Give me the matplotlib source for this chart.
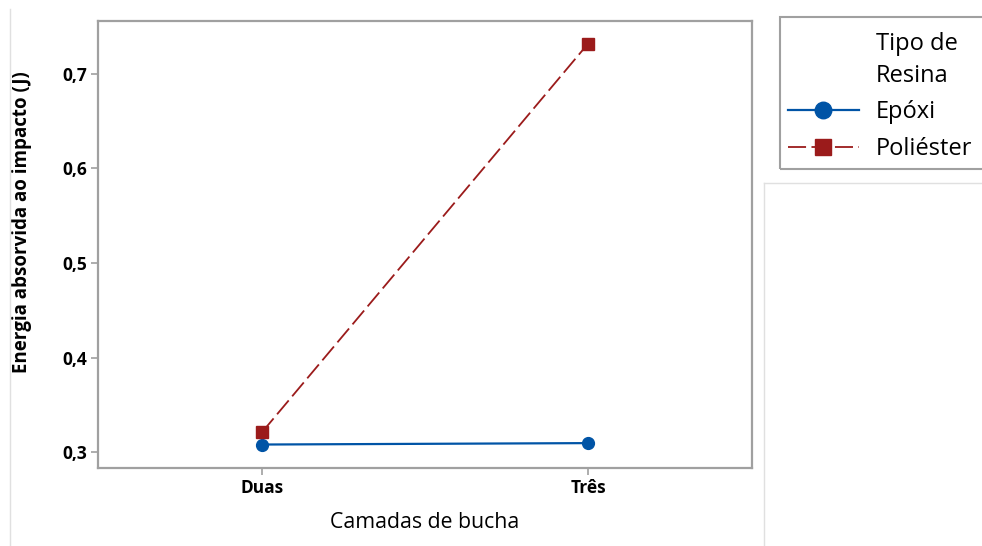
import matplotlib.pyplot as plt
from matplotlib.lines import Line2D
from matplotlib.patches import Rectangle

plt.rcParams['font.family'] = ['Open Sans', 'DejaVu Sans']

# médias de energia absorvida por tipo de resina
camadas = ['Duas', 'Três']
epoxi = [0.308, 0.3095]
poliester = [0.321, 0.732]

yticks = [0.3, 0.4, 0.5, 0.6, 0.7]
ytick_labels = ['0,3', '0,4', '0,5', '0,6', '0,7']

azul = '#0054A6'
vermelho = '#9B1B1B'
cinza = '#A0A0A0'

fig = plt.figure(figsize=(9.82, 5.46), dpi=100)
ax = fig.add_axes([0.0998, 0.1429, 0.6660, 0.8186])

x = list(range(len(camadas)))
ax.plot(x, epoxi, color=azul, lw=1.6, marker='o', ms=8.5, label='Epóxi')
ax.plot(x, poliester, color=vermelho, lw=1.3, ls=(0, (10, 3)), marker='s', ms=8.5,
        label='Poliéster')

ax.set_xlim(-0.503, 1.503)
ax.set_ylim(0.2832, 0.756)
ax.set_xticks(x)
ax.set_xticklabels(camadas, fontsize=12.5, fontweight='bold')
ax.set_yticks(yticks)
ax.set_yticklabels(ytick_labels, fontsize=12.5, fontweight='bold')
ax.tick_params(color=cinza, length=5, width=1.2, pad=3)

for s in ax.spines.values():
    s.set_color(cinza)
    s.set_linewidth(1.6)

ax.set_xlabel('Camadas de bucha', fontsize=15.3, labelpad=11)
ax.set_ylabel('Energia absorvida ao impacto (J)', fontsize=13.5, fontweight='bold',
              va='center')
ax.yaxis.set_label_coords(-0.116, 0.55)

# moldura da legenda
fig.patches.append(Rectangle((780 / 982, 1 - 169 / 546), 0.25, 152 / 546,
                             transform=fig.transFigure, fill=False,
                             edgecolor=cinza, lw=1.5, clip_on=False))
fig.text(876 / 982, 1 - 44 / 546, 'Tipo de', fontsize=17, va='center', ha='left')
fig.text(876 / 982, 1 - 76 / 546, 'Resina', fontsize=17, va='center', ha='left')
handles, labels = ax.get_legend_handles_labels()
fig.legend(handles, labels, loc='upper left',
           bbox_to_anchor=(788 / 982, 1 - 100 / 546), frameon=False, fontsize=17,
           handlelength=3.0, handletextpad=0.7, labelspacing=0.55,
           markerscale=1.4, borderpad=0, borderaxespad=0)

# linhas de contorno do painel
fig.add_artist(Line2D([10 / 982, 10 / 982], [0, 1 - 9 / 546], color='#E0E0E0', lw=1))
fig.add_artist(Line2D([764 / 982, 764 / 982], [0, 1 - 183 / 546], color='#E0E0E0', lw=1))
fig.add_artist(Line2D([764 / 982, 1], [1 - 183 / 546, 1 - 183 / 546], color='#E0E0E0', lw=1))

fig.savefig('out.png', dpi=100)
